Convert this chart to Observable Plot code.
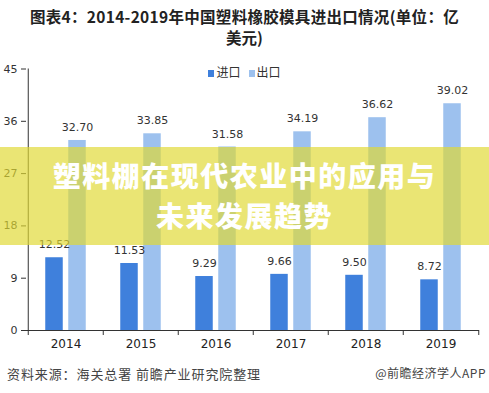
<!DOCTYPE html>
<html>
<head>
<meta charset="utf-8">
<script src="https://cdn.jsdelivr.net/npm/d3@7"></script>
<script src="https://cdn.jsdelivr.net/npm/@observablehq/plot@0.6"></script>
<style>
  html, body { margin: 0; padding: 0; background: #fff; }
  #wrap { position: relative; width: 489px; height: 393px; overflow: hidden; font-family: "Noto Sans CJK SC", "Noto Sans", sans-serif; background: #fff; }
  .title { position: absolute; left: 0; width: 489px; text-align: center; font-size: 15.5px; font-weight: bold; line-height: 16px; color: #222; white-space: nowrap; }
  #chart { position: absolute; left: 0; top: 55px; }
  #legend { position: absolute; top: 63px; left: 0; width: 489px; text-align: center; font-size: 12px; color: #333; }
  #legend span.sw { display: inline-block; width: 6px; height: 7px; margin-right: 2px; vertical-align: 0px; }
  #legend span.it { margin: 0 4px; }
  #overlay { position: absolute; left: 0; top: 147px; width: 489px; height: 98px; background: rgba(224,216,50,0.68); }
  #overlay div { position: absolute; left: 0; width: 489px; text-align: center; color: #fff; font-size: 28px; font-weight: 900; letter-spacing: 1.5px; line-height: 30px; }
  #footer-l { position: absolute; left: 7px; top: 364px; font-size: 13px; letter-spacing: 0.9px; color: #444; }
  #footer-r { position: absolute; right: 3px; top: 364px; font-size: 12px; color: #444; letter-spacing: 0.5px; }
</style>
</head>
<body>
<div id="wrap">
  <div class="title" style="top:8px; letter-spacing:0.3px">图表4：2014-2019年中国塑料橡胶模具进出口情况(单位：亿</div>
  <div class="title" style="top:29px">美元)</div>
  <div id="chart"></div>
  <div id="legend"></div>
  <div id="overlay"><div style="top:13px">塑料棚在现代农业中的应用与</div><div style="top:53px">未来发展趋势</div></div>
  <div id="footer-l">资料来源：海关总署 前瞻产业研究院整理</div>
  <div id="footer-r">@前瞻经济学人APP</div>
</div>
<script>
const years = ["2014", "2015", "2016", "2017", "2018", "2019"];
const importValues = [12.52, 11.53, 9.29, 9.66, 9.50, 8.72];
const exportValues = [32.70, 33.85, 31.58, 34.19, 36.62, 39.02];
const seriesNames = ["进口", "出口"];
const seriesColors = ["#3f80dc", "#9dc1ee"];
const yTicks = [0, 9, 18, 27, 36, 45];

const importData = years.map((y, i) => ({year: y, value: importValues[i]}));
const exportData = years.map((y, i) => ({year: y, value: exportValues[i]}));

const W = 489, H = 305, mL = 26, mR = 10, mT = 13.5, mB = 30;
const step = (W - mL - mR) / years.length;
const barW = 18, gap = 5;
const half = step / 2;

const chart = Plot.plot({
  width: W, height: H,
  marginLeft: mL, marginRight: mR, marginTop: mT, marginBottom: mB,
  style: {fontFamily: "'DejaVu Sans', 'Noto Sans CJK SC', sans-serif", fontSize: "11px", color: "#333", background: "transparent"},
  x: {type: "band", domain: years, padding: 0, axis: null, label: null},
  y: {domain: [0, 45], axis: null, label: null},
  marks: [
    Plot.barY(importData, {x: "year", y: "value", fill: seriesColors[0], insetLeft: half - barW - gap / 2, insetRight: half + gap / 2}),
    Plot.barY(exportData, {x: "year", y: "value", fill: seriesColors[1], insetLeft: half + gap / 2, insetRight: half - barW - gap / 2}),
    Plot.text(importData, {x: "year", y: "value", text: d => d.value.toFixed(2), dx: -(barW + gap) / 2, dy: -13, fill: "#333", fontSize: 11, lineAnchor: "middle"}),
    Plot.text(exportData, {x: "year", y: "value", text: d => d.value.toFixed(2), dx: (barW + gap) / 2, dy: -13, fill: "#333", fontSize: 11, lineAnchor: "middle"}),
    Plot.ruleY([0], {stroke: "#333", strokeWidth: 1}),
    Plot.ruleX([years[0]], {y1: 0, y2: 45, dx: -half, stroke: "#333", strokeWidth: 1}),
    Plot.axisY({ticks: yTicks, tickSize: 5, tickPadding: 4, stroke: "#333", fill: "#333", fontSize: 11, tickFormat: d => d, label: null}),
    Plot.axisX({tickSize: 0, tickPadding: 9, fill: "#222", fontSize: 12, label: null}),
    Plot.axisX({tickSize: 5, text: null, dx: -half, stroke: "#333", label: null}),
    Plot.axisX({ticks: [years[years.length - 1]], tickSize: 5, text: null, dx: half, stroke: "#333", label: null})
  ]
});
document.getElementById("chart").appendChild(chart);

const legend = document.getElementById("legend");
seriesNames.forEach((n, i) => {
  const it = document.createElement("span");
  it.className = "it";
  const sw = document.createElement("span");
  sw.className = "sw";
  sw.style.background = seriesColors[i];
  it.appendChild(sw);
  it.appendChild(document.createTextNode(n));
  legend.appendChild(it);
});
</script>
</body>
</html>
